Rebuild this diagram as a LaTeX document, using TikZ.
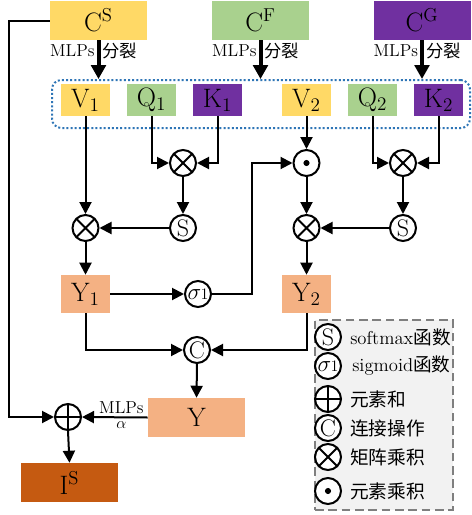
\documentclass[tikz,border=0pt]{standalone}
\usepackage{fontspec}
\newfontfamily\cjk{Noto Sans CJK SC}
\usetikzlibrary{arrows.meta,calc}
\definecolor{cyel}{HTML}{FFD966}
\definecolor{cgrn}{HTML}{A9D18E}
\definecolor{cpur}{HTML}{7030A0}
\definecolor{corg}{HTML}{F4B183}
\definecolor{cbrn}{HTML}{C55A11}
\definecolor{cblu}{HTML}{2E75B6}
\definecolor{lgfill}{HTML}{F2F2F2}
\definecolor{lgdraw}{HTML}{7F7F7F}
\begin{document}
\begin{tikzpicture}[x=0.75pt,y=-0.75pt,
  bigbox/.style={inner sep=0pt,minimum width=72.75pt,minimum height=29.25pt,font=\fontsize{20}{22}\selectfont},
  smbox/.style={inner sep=0pt,minimum width=36.75pt,minimum height=24pt,font=\fontsize{20}{22}\selectfont},
  ybox/.style={inner sep=0pt,minimum width=36.75pt,minimum height=28.5pt,font=\fontsize{20}{22}\selectfont},
  op/.style={circle,draw,line width=1.5pt,minimum size=19.5pt,inner sep=0pt,fill=white},
  mulop/.style={op,path picture={\draw[black,line width=1.5pt]
     ([shift={(45:12pt)}]path picture bounding box.center) -- ([shift={(225:12pt)}]path picture bounding box.center)
     ([shift={(135:12pt)}]path picture bounding box.center) -- ([shift={(-45:12pt)}]path picture bounding box.center);}},
  addop/.style={op,path picture={\draw[black,line width=1.5pt]
     ([shift={(0:12pt)}]path picture bounding box.center) -- ([shift={(180:12pt)}]path picture bounding box.center)
     ([shift={(90:12pt)}]path picture bounding box.center) -- ([shift={(270:12pt)}]path picture bounding box.center);}},
  dotop/.style={op,path picture={\fill[black] (path picture bounding box.center) circle (2.3pt);}},
  txtop/.style={op,font=\fontsize{18}{18}\selectfont},
  sigop/.style={op,font=\fontsize{16}{16}\selectfont},
  ar/.style={line width=1.5pt,-{Triangle[length=9pt,width=9pt]}},
  bigar/.style={line width=3pt,-{Triangle[length=10.5pt,width=11pt]}},
  lbl/.style={font=\fontsize{13}{15}\selectfont,inner sep=1.5pt},
  lgtxt/.style={font=\fontsize{14}{16}\selectfont,anchor=west,inner sep=0pt}
]
\useasboundingbox (0,0) rectangle (472,515);

% top boxes
\node[bigbox,fill=cyel] (CS) at (98.5,20.5) {C$^{\mathrm{S}}$};
\node[bigbox,fill=cgrn] (CF) at (260.5,20.5) {C$^{\mathrm{F}}$};
\node[bigbox,fill=cpur] (CG) at (422,20.5) {C$^{\mathrm{G}}$};

% group box
\node[draw=cblu,line width=1.5pt,dash pattern=on 1.5pt off 1.6pt,rounded corners=7pt,
      minimum width=313.5pt,minimum height=36pt,inner sep=0pt] (grp) at (261,104) {};

% second row
\node[smbox,fill=cyel] (V1) at (85.5,100) {V$_1$};
\node[smbox,fill=cgrn] (Q1) at (151.5,100) {Q$_1$};
\node[smbox,fill=cpur] (K1) at (217.5,100) {K$_1$};
\node[smbox,fill=cyel] (V2) at (306.5,100) {V$_2$};
\node[smbox,fill=cgrn] (Q2) at (372.5,100) {Q$_2$};
\node[smbox,fill=cpur] (K2) at (438.5,100) {K$_2$};

% operators
\node[mulop] (m1) at (183,163) {};
\node[txtop] (s1) at (183,228) {S};
\node[mulop] (m2) at (85.5,228) {};
\node[dotop] (e1) at (306.5,163) {};
\node[mulop] (m3) at (403,163) {};
\node[txtop] (s2) at (403,228) {S};
\node[mulop] (m4) at (306.5,228) {};

\node[ybox,fill=corg] (Y1) at (85.5,294) {Y$_1$};
\node[ybox,fill=corg] (Y2) at (306.5,294) {Y$_2$};
\node[sigop] (sig) at (198,294) {$\sigma$\kern-0.5pt{\fontsize{12}{12}\selectfont 1}};
\node[txtop] (conn) at (197,350) {C};
\node[bigbox,fill=corg] (Y) at (196.5,417.5) {Y};
\node[addop] (plus) at (68,417) {};
\node[bigbox,fill=cbrn] (IS) at (69.5,482.5) {I$^{\mathrm{S}}$};

\coordinate (lcor) at (9,0);
\coordinate (bend) at (252,294);

% thick arrows
\draw[bigar] (CS.south) -- (CS.south |- grp.north) node[pos=0.28,left,lbl]{MLPs} node[pos=0.28,right,lbl]{\cjk 分裂};
\draw[bigar] (CF.south) -- (CF.south |- grp.north) node[pos=0.28,left,lbl]{MLPs} node[pos=0.28,right,lbl]{\cjk 分裂};
\draw[bigar] (CG.south) -- (CG.south |- grp.north) node[pos=0.28,left,lbl]{MLPs} node[pos=0.28,right,lbl]{\cjk 分裂};

% connectors
\draw[ar] (V1.south) -- (m2.north);
\draw[ar] (Q1.south) |- (m1.west);
\draw[ar] (K1.south) |- (m1.east);
\draw[ar] (m1.south) -- (s1.north);
\draw[ar] (s1.west) -- (m2.east);
\draw[ar] (m2.south) -- (Y1.north);
\draw[ar] (Y1.east) -- (sig.west);
\draw[ar] (sig.east) -- (bend) |- (e1.west);
\draw[ar] (V2.south) -- (e1.north);
\draw[ar] (Q2.south) |- (m3.west);
\draw[ar] (K2.south) |- (m3.east);
\draw[ar] (m3.south) -- (s2.north);
\draw[ar] (s2.west) -- (m4.east);
\draw[ar] (e1.south) -- (m4.north);
\draw[ar] (m4.south) -- (Y2.north);
\draw[ar] (Y1.south) |- (conn.west);
\draw[ar] (Y2.south) |- (conn.east);
\draw[ar] (conn.south) -- (Y.north);
\draw[ar] (Y.west) -- (plus.east) node[pos=0.4,above,lbl,inner sep=2pt]{MLPs} node[pos=0.4,below,lbl,inner sep=2.5pt]{$\alpha$};
\draw[ar] (CS.west) -| (lcor |- plus) -- (plus.west);
\draw[ar] (plus.south) -- (IS.north);

% legend
\node[draw=lgdraw,fill=lgfill,line width=1.5pt,dash pattern=on 6.5pt off 3.5pt,inner sep=0pt,
      minimum width=103.5pt,minimum height=142.5pt] (lg) at (384,415) {};
\node[txtop] (lg1) at (328,337) {S};
\node[sigop] (lg2) at (328,366) {$\sigma$\kern-0.5pt{\fontsize{12}{12}\selectfont 1}};
\node[addop] (lg3) at (328,399) {};
\node[txtop] (lg4) at (328,428) {C};
\node[mulop] (lg5) at (328,457) {};
\node[dotop] (lg6) at (328,491) {};
\node[lgtxt] (t1) at (350,337) {softmax{\cjk 函数}};
\node[lgtxt] (t2) at (352,366) {sigmoid{\cjk 函数}};
\node[lgtxt] (t3) at (350,399) {\cjk 元素和};
\node[lgtxt] (t4) at (350,428) {\cjk 连接操作};
\node[lgtxt] (t5) at (350,457) {\cjk 矩阵乘积};
\node[lgtxt] (t6) at (350,491) {\cjk 元素乘积};
\end{tikzpicture}
\end{document}
